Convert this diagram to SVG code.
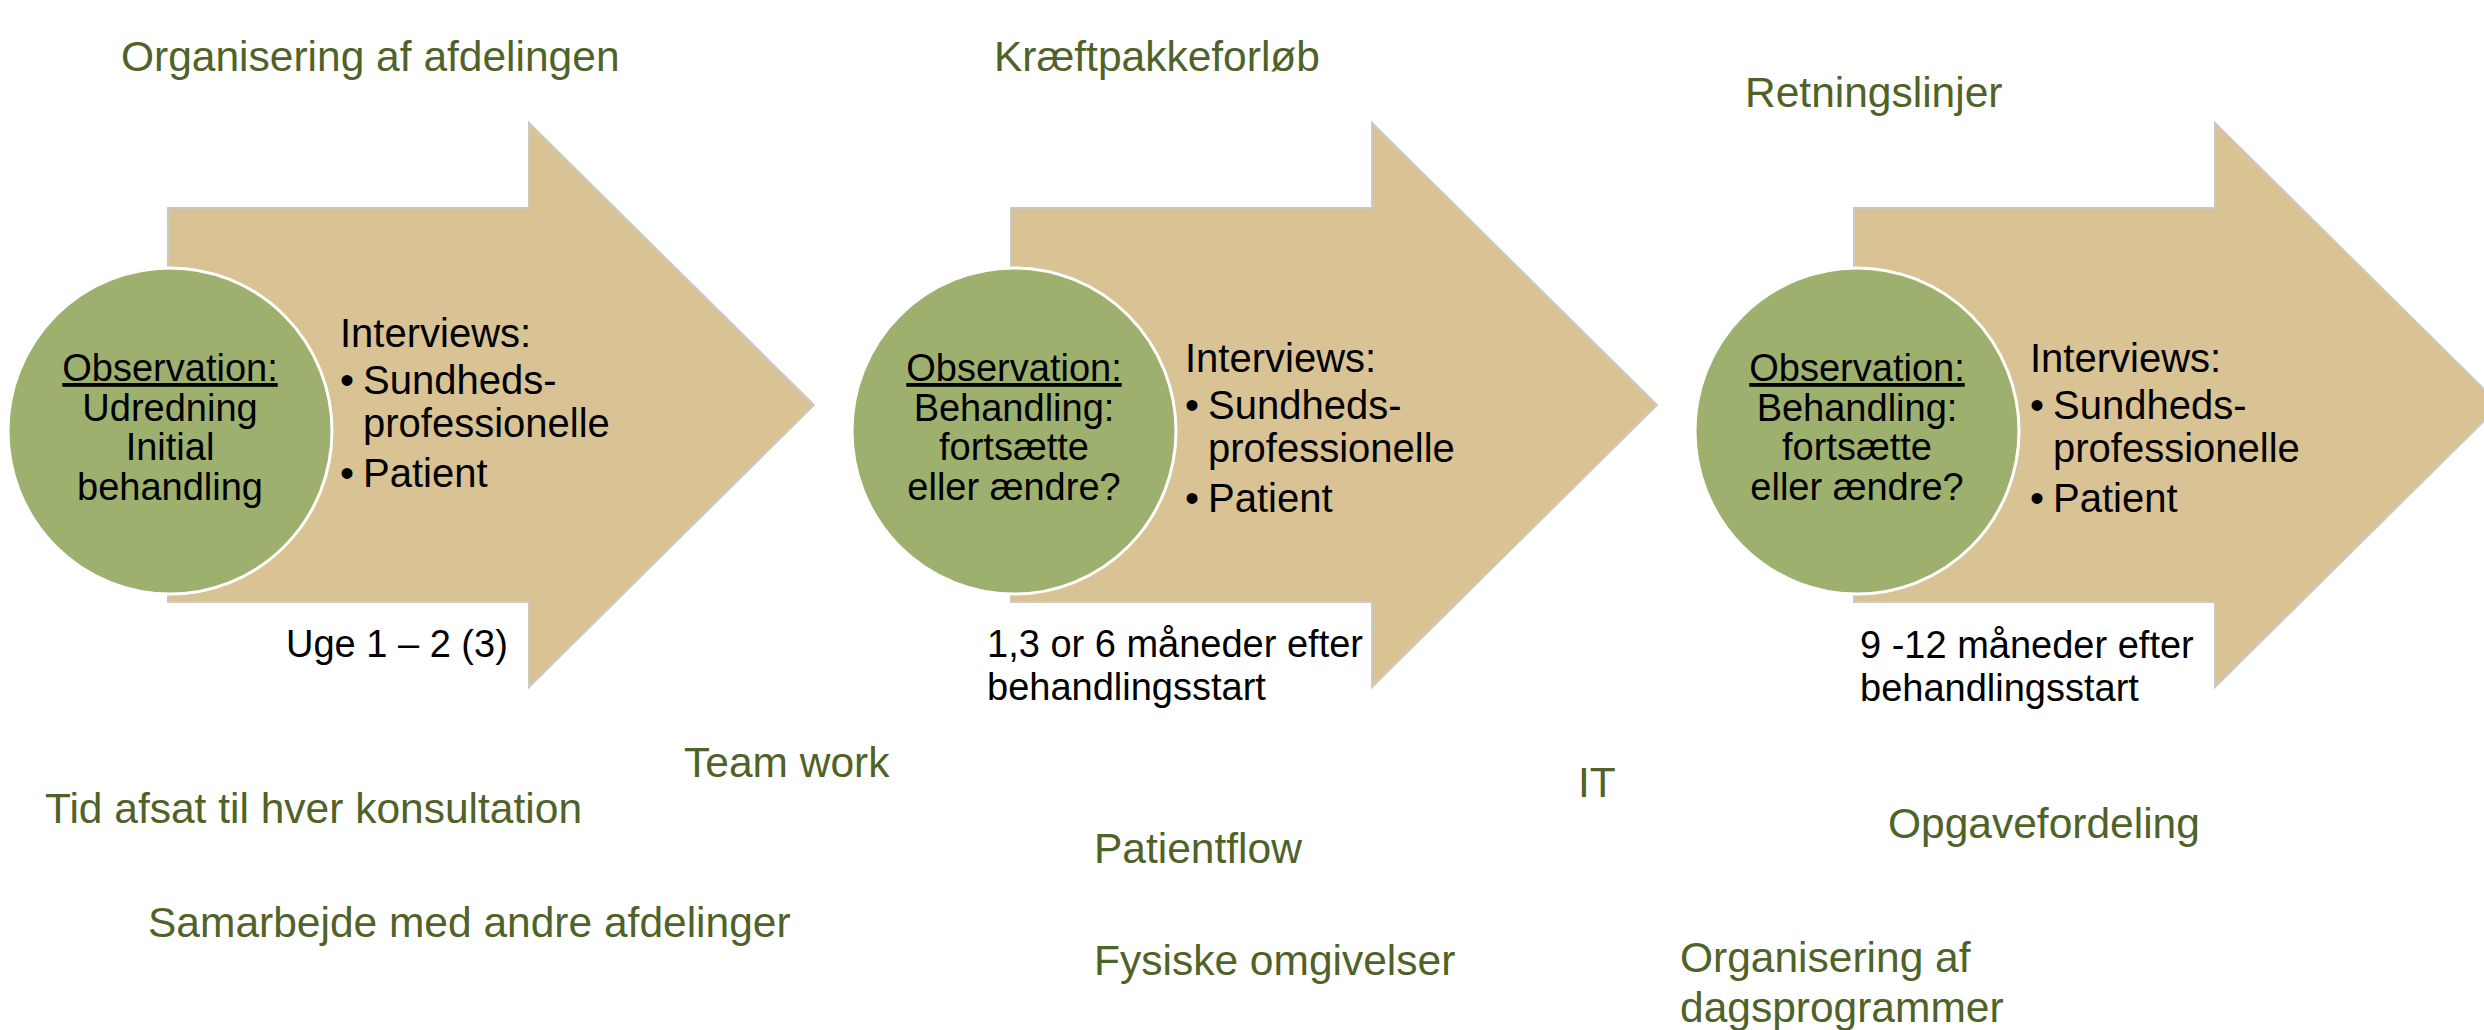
<svg xmlns="http://www.w3.org/2000/svg" width="2484" height="1030" viewBox="0 0 2484 1030">
<style>
.arrow{fill:#d9c293;stroke:#c9cbc2;stroke-width:2}
.circ{fill:#9db06e;stroke:#ffffff;stroke-width:3}
.ct{font-family:"Liberation Sans",Arial,sans-serif;font-size:38px;fill:#000;text-anchor:middle}
.it{font-family:"Liberation Sans",Arial,sans-serif;font-size:40px;fill:#000}
.bt{font-family:"Liberation Sans",Arial,sans-serif;font-size:38px;fill:#000}
.gt{font-family:"Liberation Sans",Arial,sans-serif;font-size:42.5px;fill:#4f6228}
.u{text-decoration:underline}
</style>
<rect width="2484" height="1030" fill="#ffffff"/>
<g id="connectors"></g>
<g id="stage1">
<path class="arrow" d="M168,208 H529 V123 L814,405 L529,687 V602 H168 Z"/>
<ellipse class="circ" cx="170" cy="431" rx="162" ry="163"/>
<text class="ct" x="170" y="381"><tspan class="u">Observation:</tspan></text>
<text class="ct" x="170" y="421">Udredning</text>
<text class="ct" x="170" y="460">Initial</text>
<text class="ct" x="170" y="500">behandling</text>
<text class="it" x="340" y="347">Interviews:</text>
<text class="it" x="340" y="394">•</text><text class="it" x="363" y="394">Sundheds-</text>
<text class="it" x="363" y="437">professionelle</text>
<text class="it" x="340" y="487">•</text><text class="it" x="363" y="487">Patient</text>
<text class="bt" x="286" y="657">Uge 1 – 2 (3)</text>
</g>
<g id="stage2">
<path class="arrow" d="M1011,208 H1372 V123 L1657,405 L1372,687 V602 H1011 Z"/>
<ellipse class="circ" cx="1014" cy="431" rx="162" ry="163"/>
<text class="ct" x="1014" y="381"><tspan class="u">Observation:</tspan></text>
<text class="ct" x="1014" y="421">Behandling:</text>
<text class="ct" x="1014" y="460">fortsætte</text>
<text class="ct" x="1014" y="500">eller ændre?</text>
<text class="it" x="1185" y="372">Interviews:</text>
<text class="it" x="1185" y="419">•</text><text class="it" x="1208" y="419">Sundheds-</text>
<text class="it" x="1208" y="462">professionelle</text>
<text class="it" x="1185" y="512">•</text><text class="it" x="1208" y="512">Patient</text>
<text class="bt" x="987" y="657">1,3 or 6 måneder efter</text>
<text class="bt" x="987" y="700">behandlingsstart</text>
</g>
<g id="stage3">
<path class="arrow" d="M1854,208 H2215 V123 L2500,405 L2215,687 V602 H1854 Z"/>
<ellipse class="circ" cx="1857" cy="431" rx="162" ry="163"/>
<text class="ct" x="1857" y="381"><tspan class="u">Observation:</tspan></text>
<text class="ct" x="1857" y="421">Behandling:</text>
<text class="ct" x="1857" y="460">fortsætte</text>
<text class="ct" x="1857" y="500">eller ændre?</text>
<text class="it" x="2030" y="372">Interviews:</text>
<text class="it" x="2030" y="419">•</text><text class="it" x="2053" y="419">Sundheds-</text>
<text class="it" x="2053" y="462">professionelle</text>
<text class="it" x="2030" y="512">•</text><text class="it" x="2053" y="512">Patient</text>
<text class="bt" x="1860" y="658">9 -12 måneder efter</text>
<text class="bt" x="1860" y="701">behandlingsstart</text>
</g>
<g id="labels">
<text class="gt" x="121" y="71">Organisering af afdelingen</text>
<text class="gt" x="994" y="71">Kræftpakkeforløb</text>
<text class="gt" x="1745" y="107">Retningslinjer</text>
<text class="gt" x="684" y="777">Team work</text>
<text class="gt" x="45" y="823">Tid afsat til hver konsultation</text>
<text class="gt" x="1094" y="863">Patientflow</text>
<text class="gt" x="1578" y="797">IT</text>
<text class="gt" x="1888" y="838">Opgavefordeling</text>
<text class="gt" x="148" y="937">Samarbejde med andre afdelinger</text>
<text class="gt" x="1094" y="975">Fysiske omgivelser</text>
<text class="gt" x="1680" y="972">Organisering af</text>
<text class="gt" x="1680" y="1022">dagsprogrammer</text>
</g>
</svg>
